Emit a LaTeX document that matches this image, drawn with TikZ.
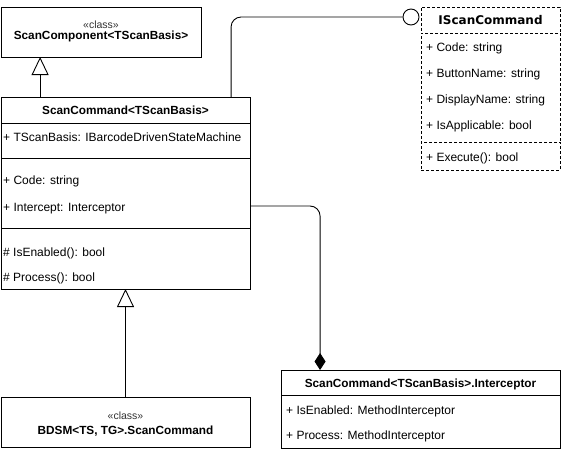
\documentclass[tikz,border=0pt]{standalone}
\usepackage{fontspec}
\setmainfont{Liberation Sans}
\newfontfamily\ifacefont{DejaVu Sans}
\usepackage{tikz}
\usetikzlibrary{arrows.meta,positioning,calc}
\definecolor{LineBlack}{HTML}{000000}
\definecolor{StereoGray}{HTML}{333333}
\tikzset{
  classbox/.style={draw=LineBlack,fill=white,anchor=north west,inner sep=0pt,
                   outer sep=0pt,line width=0.9pt},
  ifacebox/.style={classbox,dash pattern=on 3pt off 2pt},
  member/.style={anchor=base west,inner sep=0pt,font=\fontsize{12}{14}\selectfont},
  header/.style={anchor=base,inner sep=0pt,font=\fontsize{11.8}{14}\selectfont\bfseries},
  ifaceheader/.style={anchor=base,inner sep=0pt,font=\ifacefont\fontsize{12}{14}\selectfont\bfseries},
  stereo/.style={anchor=base,inner sep=0pt,font=\fontsize{10.5}{12}\selectfont,text=StereoGray},
  lolly/.style={draw=LineBlack,fill=white,circle,minimum size=16pt,inner sep=0pt,line width=0.9pt},
  inherit/.style={-{Triangle[open,length=18pt,width=17pt,fill=white]},line width=0.9pt},
  compose/.style={-{Diamond[length=17pt,width=11pt]},line width=0.9pt,rounded corners=10pt},
  realize/.style={line width=0.9pt,rounded corners=10pt}
}
\begin{document}
\begin{tikzpicture}[x=1pt,y=-1pt,node distance=0pt]
  \useasboundingbox (0,0) rectangle (561,451);

  \node[classbox,minimum width=200pt,minimum height=50pt] (component) at (1,7) {};
  \node[stereo] at (101,28) {«class»};
  \node[header] at (101,39) {ScanComponent<TScanBasis>};

  \node[classbox,minimum width=249pt,minimum height=26pt] (command) at (1,97) {};
  \node[classbox,minimum width=249pt,minimum height=35pt,below=of command] (commandbasis) {};
  \node[classbox,minimum width=249pt,minimum height=70pt,below=of commandbasis] (commandattr) {};
  \node[classbox,minimum width=249pt,minimum height=61pt,below=of commandattr] (commandops) {};
  \node[header] at (125.5,114) {ScanCommand<TScanBasis>};
  \node[member] at (3,141) {+ TScanBasis: IBarcodeDrivenStateMachine};
  \node[member] at (3,184) {+ Code: string};
  \node[member] (intercept) at (3,211) {+ Intercept: Interceptor};
  \node[member] at (3,256) {\# IsEnabled(): bool};
  \node[member] at (3,281) {\# Process(): bool};

  \node[classbox,minimum width=249pt,minimum height=50pt] (bdsm) at (1,397) {};
  \node[stereo] at (125.5,419) {«class»};
  \node[header] at (125.5,434) {BDSM<TS, TG>.ScanCommand};

  \node[ifacebox,minimum width=139pt,minimum height=26pt] (iface) at (421,7) {};
  \node[ifacebox,minimum width=139pt,minimum height=109pt,below=of iface] (ifaceattr) {};
  \node[ifacebox,minimum width=139pt,minimum height=28pt,below=of ifaceattr] (ifaceops) {};
  \node[ifaceheader] at (490.5,24.5) {IScanCommand};
  \node[member] at (426,51) {+ Code: string};
  \node[member] at (426,77) {+ ButtonName: string};
  \node[member] at (426,103) {+ DisplayName: string};
  \node[member] at (426,129) {+ IsApplicable: bool};
  \node[member] at (426,161) {+ Execute(): bool};
  \node[lolly] (socket) at (411,17) {};

  \node[classbox,minimum width=279pt,minimum height=25pt] (interceptor) at (281,370) {};
  \node[classbox,minimum width=279pt,minimum height=53pt,below=of interceptor] (interceptorattr) {};
  \node[header] at (420.5,387) {ScanCommand<TScanBasis>.Interceptor};
  \node[member] at (286,414) {+ IsEnabled: MethodInterceptor};
  \node[member] at (286,439) {+ Process: MethodInterceptor};

  \coordinate (baseup) at ($(command.north west)!0.157!(command.north east)$);
  \coordinate (realfoot) at ($(command.north west)!0.924!(command.north east)$);
  \coordinate (partend) at ($(interceptor.north west)!0.14!(interceptor.north east)$);

  \draw[inherit] (baseup) -- (component.south -| baseup);
  \draw[inherit] (bdsm.north) -- (commandops.south);
  \draw[realize] (realfoot) |- (socket.west);
  \draw[compose] (commandattr.east |- 0,206) -| (partend);
\end{tikzpicture}
\end{document}
